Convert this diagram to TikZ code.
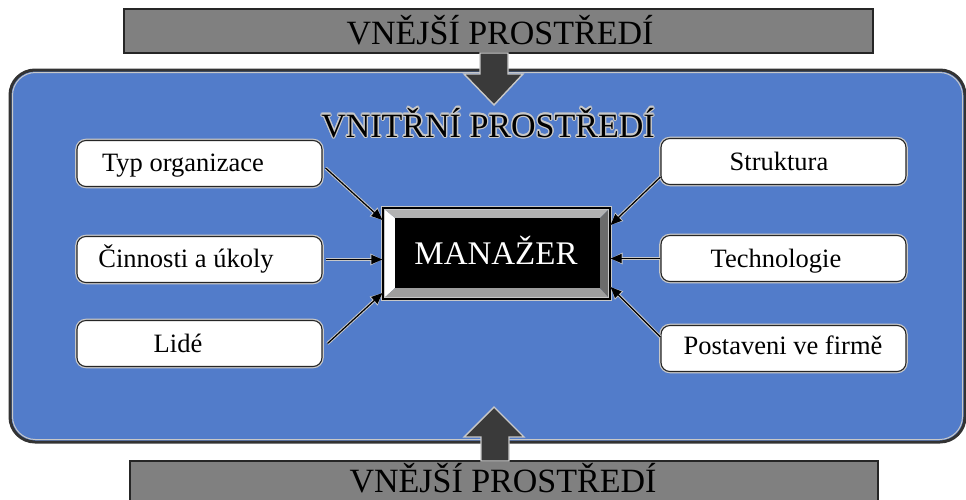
\documentclass[tikz,border=0pt]{standalone}
\usepackage{fontspec}
\setmainfont{Liberation Serif}
\usepackage[copies]{contour}
\contourlength{1.3pt}
\contournumber{12}
\usetikzlibrary{arrows.meta}
\definecolor{bluebg}{RGB}{82,124,202}
\definecolor{envgray}{RGB}{128,128,128}
\definecolor{blockdark}{RGB}{58,58,58}
\definecolor{halo}{RGB}{200,200,200}
\tikzset{
  envbox/.style={draw=black!85, line width=1.6pt, fill=envgray, inner sep=0pt},
  sidebox/.style={draw=black!85, line width=1.1pt, fill=white, rounded corners=9pt,
    minimum width=245pt, minimum height=46pt, inner sep=0pt,
    preaction={draw=halo, line width=3.6pt}},
  sidetext/.style={anchor=base, inner sep=0pt, font=\fontsize{26.5}{30}\selectfont},
  bigtext/.style={anchor=base, inner sep=0pt, font=\fontsize{34}{38}\selectfont},
  conn/.style={draw=black, line width=1.2pt, -{Triangle[length=11pt,width=9pt]},
    preaction={draw=halo, line width=3.2pt, -{Triangle[length=12pt,width=11pt]}}},
  blockarrow/.style={fill=blockdark, draw=halo, line width=1.4pt, line join=miter}
}
\begin{document}
\begin{tikzpicture}[x=1pt,y=-1pt]
\useasboundingbox (0,0) rectangle (966,499);

% outer environment boxes
\node[envbox, minimum width=749pt, minimum height=44pt] (topenv) at (498.5,31) {};
\node[bigtext] (toptext) at (500,44) {VNĚJŠÍ PROSTŘEDÍ};

% inner environment (blue)
\node[draw=black!80, line width=3pt, fill=bluebg, rounded corners=25pt,
      minimum width=955pt, minimum height=372pt, inner sep=0pt] (inner) at (487.5,256) {};
\draw[halo, line width=1pt, rounded corners=23pt] (12.5,72.5) rectangle (962.5,439.5);

\node[envbox, minimum width=748pt, minimum height=50pt, anchor=north west] (botenv) at (129,460) {};
\node[bigtext] (bottext) at (503,492) {VNĚJŠÍ PROSTŘEDÍ};

% block arrows
\draw[blockarrow] (480,53) -- (508,53) -- (508,74) -- (523,74) -- (494,105) -- (464,74) -- (480,74) -- cycle;
\draw[blockarrow] (481,461) -- (509,461) -- (509,437) -- (524,437) -- (494,407) -- (464,437) -- (481,437) -- cycle;

\node[bigtext] (innertext) at (488,137) {\contour{halo}{VNITŘNÍ PROSTŘEDÍ}};

% manager box with bevel
\fill[white] (383,208) -- (395,218) -- (395,288) -- (383,299) -- cycle;
\fill[black!30] (383,208) -- (610,208) -- (600,218) -- (395,218) -- cycle;
\fill[black!38] (383,299) -- (395,288) -- (600,288) -- (610,299) -- cycle;
\fill[black!58] (610,208) -- (600,218) -- (600,288) -- (610,299) -- cycle;
\fill[black] (395,218) rectangle (600,288);
\node[draw=black, line width=1.2pt, minimum width=227pt, minimum height=91pt, inner sep=0pt,
      preaction={draw=halo, line width=3.4pt}] (mgr) at (496.5,253.5) {};
\node[anchor=base, inner sep=0pt, text=white, font=\fontsize{33}{38}\selectfont] (mgrtext) at (496,264) {MANAŽER};

% left boxes
\node[sidebox] (typ) at (199.5,163.5) {};
\node[sidetext] (typtext) at (183,171) {Typ organizace};
\node[sidebox] (cin) at (199.5,259.5) {};
\node[sidetext] (cintext) at (186,267) {Činnosti a úkoly};
\node[sidebox] (lid) at (199.5,343.5) {};
\node[sidetext] (lidtext) at (178,352) {Lidé};

% right boxes
\node[sidebox] (str) at (783.5,161.5) {};
\node[sidetext] (strtext) at (779,170) {Struktura};
\node[sidebox] (tech) at (783.5,258.5) {};
\node[sidetext] (techtext) at (776,267) {Technologie};
\node[sidebox] (post) at (783.5,348.5) {};
\node[sidetext] (posttext) at (783,354) {Postaveni ve firmě};

% connectors
\draw[conn] ([xshift=3pt,yshift=-4.5pt]typ.east) -- ([yshift=33.5pt]mgr.west);
\draw[conn] ([xshift=3pt]cin.east) -- (cin.east -| mgr.west);
\draw[conn] ([xshift=5pt]lid.east) -- ([yshift=-39.5pt]mgr.west);
\draw[conn] ([yshift=-15.5pt]str.west) -- ([yshift=28.5pt]mgr.east);
\draw[conn] (tech.west) -- (tech.west -| mgr.east);
\draw[conn] ([yshift=11.5pt]post.west) -- ([yshift=-33.5pt]mgr.east);
\end{tikzpicture}
\end{document}
